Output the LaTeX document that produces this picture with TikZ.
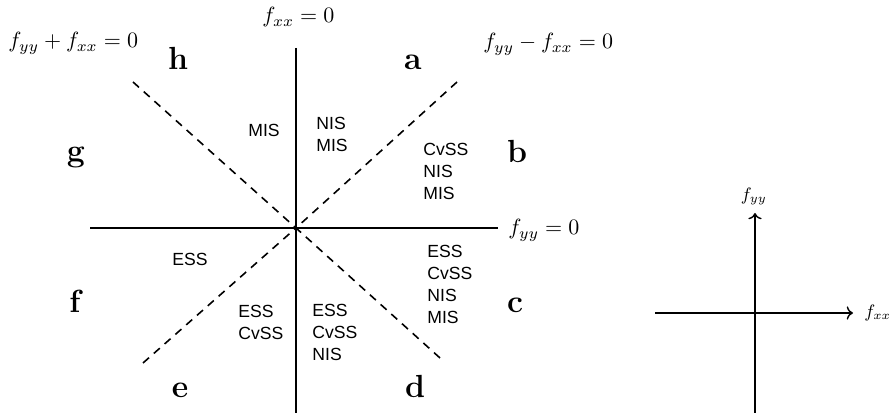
\RequirePackage{fix-cm}
\documentclass[tikz,border=0pt]{standalone}
\usepackage{fontspec}
\newfontfamily\arialfont{Liberation Sans}
\usetikzlibrary{arrows.meta}

\begin{document}
\begin{tikzpicture}[x=0.5pt,y=-0.5pt,>=To,
  axis/.style={line width=1pt},
  bnd/.style={line width=0.8pt,dash pattern=on 4pt off 3.2pt},
  tag/.style={anchor=base,inner sep=0pt,font=\fontsize{16}{18}\selectfont\bfseries},
  cls/.style={anchor=north west,align=left,inner sep=0pt,font=\arialfont\fontsize{8.8}{10.9}\selectfont},
  eqn/.style={anchor=base west,inner sep=0pt,font=\fontsize{11}{13}\selectfont},
  ref/.style={line width=0.7pt}]
\useasboundingbox (0,0) rectangle (890,415);
% ================ left: the eight regions ================
\coordinate (O) at (296,228);
\coordinate (vtop) at (296,48);
\coordinate (vbot) at (296,413);
\coordinate (hl) at (90,228);
\coordinate (hr) at (498,228);
\coordinate (nw) at (133,82);
\coordinate (ne) at (457,82);
\coordinate (sw) at (143,363);
\coordinate (se) at (440,358);
% solid axes f_xx=0 and f_yy=0
\draw[axis] (vtop) -- (vbot);
\draw[axis] (hl) -- (hr);
% dashed diagonals
\draw[bnd] (nw) -- (O);
\draw[bnd] (ne) -- (O);
\draw[bnd] (sw) -- (O);
\draw[bnd] (se) -- (O);
% boundary equations
\node[eqn] (lxx) at (262,23) {$f_{xx}=0$};
\node[eqn] (lsum) at (8,48) {$f_{yy}+f_{xx}=0$};
\node[eqn] (ldif) at (483,49) {$f_{yy}-f_{xx}=0$};
\node[eqn] (lyy) at (508,235) {$f_{yy}=0$};
% region letters
\node[tag] (ra) at (413,70) {a};
\node[tag] (rb) at (517,163) {b};
\node[tag] (rc) at (515,313) {c};
\node[tag] (rd) at (415,398) {d};
\node[tag] (re) at (180,398) {e};
\node[tag] (rf) at (75,313) {f};
\node[tag] (rg) at (76,162) {g};
\node[tag] (rh) at (178,70) {h};
% stability classes per region
\node[cls] (sa) at (316,117) {NIS\\MIS};
\node[cls] (sb) at (423,143) {CvSS\\NIS\\MIS};
\node[cls] (sc) at (427,245) {ESS\\CvSS\\NIS\\MIS};
\node[cls] (sd) at (312,304) {ESS\\CvSS\\NIS};
\node[cls] (se) at (238,305) {ESS\\CvSS};
\node[cls] (sf) at (172,253) {ESS};
\node[cls] (sh) at (248,124) {MIS};
% ================ right: small reference axes ================
\coordinate (P) at (755,313);
\coordinate (xl) at (655,313);
\coordinate (xr) at (853,313);
\coordinate (yb) at (755,413);
\coordinate (yt) at (755,213);
\draw[ref,->] (xl) -- (xr);
\draw[ref,->] (yb) -- (yt);
\node[anchor=west,inner sep=0pt,font=\fontsize{9}{11}\selectfont] (axx) at (864,313) {$f_{xx}$};
\node[anchor=south,inner sep=0pt,font=\fontsize{9}{11}\selectfont] (ayy) at (754,205) {$f_{yy}$};
\end{tikzpicture}
\end{document}
